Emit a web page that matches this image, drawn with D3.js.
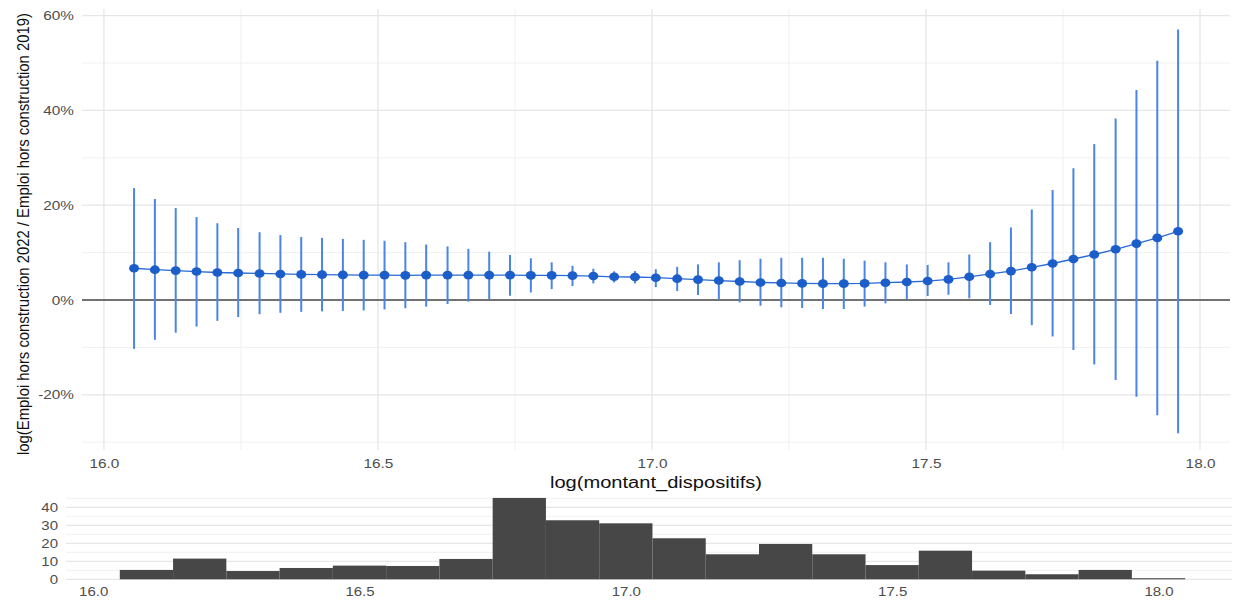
<!DOCTYPE html>
<html>
<head>
<meta charset="utf-8">
<script src="https://cdn.jsdelivr.net/npm/d3@7"></script>
<style>
  body { margin: 0; background: #fff; }
  text { font-family: "Liberation Sans", Arial, sans-serif; }
</style>
</head>
<body>
<script>
// binned estimates (x = log(montant_dispositifs)), values in %
const xs = [16.055, 16.093, 16.131, 16.169, 16.207, 16.245, 16.284, 16.322, 16.360, 16.398,
            16.436, 16.474, 16.512, 16.550, 16.588, 16.627, 16.665, 16.703, 16.741, 16.779,
            16.817, 16.855, 16.893, 16.931, 16.969, 17.007, 17.046, 17.084, 17.122, 17.160,
            17.198, 17.236, 17.274, 17.312, 17.350, 17.388, 17.426, 17.465, 17.503, 17.541,
            17.579, 17.617, 17.655, 17.693, 17.731, 17.769, 17.807, 17.846, 17.884, 17.922,
            17.960];
const est = [6.7, 6.4, 6.2, 6.0, 5.8, 5.7, 5.6, 5.5, 5.4, 5.35,
             5.3, 5.25, 5.25, 5.2, 5.25, 5.25, 5.25, 5.25, 5.25, 5.2,
             5.2, 5.15, 5.05, 4.9, 4.85, 4.7, 4.5, 4.3, 4.1, 3.9,
             3.7, 3.6, 3.5, 3.45, 3.45, 3.5, 3.65, 3.8, 4.0, 4.35,
             4.9, 5.5, 6.1, 6.9, 7.7, 8.65, 9.6, 10.7, 11.9, 13.1,
             14.5];
const lo = [-10.3, -8.4, -6.9, -5.6, -4.4, -3.6, -3.0, -2.7, -2.5, -2.4,
            -2.3, -2.2, -2.0, -1.75, -1.4, -0.85, -0.35, 0.2, 0.9, 1.6,
            2.3, 2.95, 3.5, 3.7, 3.5, 2.7, 1.9, 1.05, 0.15, -0.5,
            -1.2, -1.55, -1.7, -1.9, -1.9, -1.4, -0.7, 0.15, 0.85, 1.1,
            0.35, -1.05, -2.95, -5.3, -7.7, -10.55, -13.6, -16.9, -20.4, -24.3,
            -28.1];
const hi = [23.6, 21.3, 19.4, 17.5, 16.2, 15.2, 14.3, 13.7, 13.3, 13.1,
            12.9, 12.7, 12.5, 12.2, 11.7, 11.3, 10.8, 10.2, 9.5, 8.8,
            7.95, 7.2, 6.6, 6.05, 6.1, 6.5, 7.0, 7.5, 7.95, 8.4,
            8.7, 8.9, 8.9, 8.9, 8.7, 8.3, 7.95, 7.5, 7.4, 7.95,
            9.6, 12.2, 15.3, 19.1, 23.2, 27.8, 32.9, 38.3, 44.3, 50.5,
            57.1];

// histogram of log(montant_dispositifs)
const binEdges = [16.05, 16.15, 16.25, 16.35, 16.45, 16.55, 16.65, 16.75, 16.85, 16.95, 17.05,
                  17.15, 17.25, 17.35, 17.45, 17.55, 17.65, 17.75, 17.85, 17.95, 18.05];
const binCounts = [5.2, 11.5, 4.6, 6.3, 7.6, 7.4, 11.3, 45.2, 32.8, 31.1,
                   22.8, 13.9, 19.6, 13.9, 7.9, 15.9, 4.8, 2.8, 5.2, 0.6];

const topXTicks = [16, 16.5, 17, 17.5, 18];
const topXMinor = [16.25, 16.75, 17.25, 17.75];
const topYTicks = [-20, 0, 20, 40, 60];
const topYMinor = [-30, -10, 10, 30, 50];
const histXTicks = [16, 16.5, 17, 17.5, 18];
const histYTicks = [0, 10, 20, 30, 40];
const histYMinor = [5, 15, 25, 35, 45];

const W = 1240, H = 603;
const svg = d3.select("body").append("svg").attr("width", W).attr("height", H);

function stretch(sel, k) {
    sel.each(function () {
        const len = this.getComputedTextLength();
        d3.select(this).attr("textLength", len * k).attr("lengthAdjust", "spacingAndGlyphs");
    });
}

// ---------- top panel ----------
const x = d3.scaleLinear().domain([15.96, 18.0547]).range([82, 1230]);
const y = d3.scaleLinear().domain([-31.65, 61.4]).range([450, 9]);

const grid = svg.append("g");
grid.selectAll(".hmin").data(topYMinor).enter().append("line")
    .attr("x1", 82).attr("x2", 1230)
    .attr("y1", d => y(d)).attr("y2", d => y(d))
    .attr("stroke", "#f0f0f0").attr("stroke-width", 1);
grid.selectAll(".vmin").data(topXMinor).enter().append("line")
    .attr("y1", 9).attr("y2", 450)
    .attr("x1", d => x(d)).attr("x2", d => x(d))
    .attr("stroke", "#f0f0f0").attr("stroke-width", 1);
grid.selectAll(".hmaj").data(topYTicks).enter().append("line")
    .attr("x1", 82).attr("x2", 1230)
    .attr("y1", d => y(d)).attr("y2", d => y(d))
    .attr("stroke", "#e6e6e6").attr("stroke-width", 1.3);
grid.selectAll(".vmaj").data(topXTicks).enter().append("line")
    .attr("y1", 9).attr("y2", 450)
    .attr("x1", d => x(d)).attr("x2", d => x(d))
    .attr("stroke", "#e6e6e6").attr("stroke-width", 1.3);

// zero line
svg.append("line")
    .attr("x1", 82).attr("x2", 1230)
    .attr("y1", y(0)).attr("y2", y(0))
    .attr("stroke", "#4a4a4a").attr("stroke-width", 1.4);

const pts = xs.map((v, i) => ({ x: v, est: est[i], lo: lo[i], hi: hi[i] }));

svg.append("g").selectAll("line")
    .data(pts).enter().append("line")
    .attr("x1", d => x(d.x)).attr("x2", d => x(d.x))
    .attr("y1", d => y(d.lo)).attr("y2", d => y(d.hi))
    .attr("stroke", "#4a85e4").attr("stroke-width", 2);

svg.append("path")
    .datum(pts)
    .attr("fill", "none")
    .attr("stroke", "#2a6ad6")
    .attr("stroke-width", 1.3)
    .attr("d", d3.line().x(d => x(d.x)).y(d => y(d.est)));

svg.append("g").selectAll("ellipse")
    .data(pts).enter().append("ellipse")
    .attr("cx", d => x(d.x)).attr("cy", d => y(d.est))
    .attr("rx", 5).attr("ry", 4.3)
    .attr("fill", "#1b5ec9");

// axes
const yAxis = svg.append("g").attr("transform", "translate(82,0)")
    .call(d3.axisLeft(y).tickValues(topYTicks).tickFormat(d => d + "%").tickSize(0).tickPadding(8));
const xAxis = svg.append("g").attr("transform", "translate(0,450)")
    .call(d3.axisBottom(x).tickValues(topXTicks).tickFormat(d3.format(".1f")).tickSize(0).tickPadding(9));
[yAxis, xAxis].forEach(a => {
    a.select(".domain").remove();
    a.selectAll("text").attr("fill", "#4d4d4d").style("font-size", "13px")
        .style("font-family", "'Liberation Sans', Arial, sans-serif");
    stretch(a.selectAll("text"), 1.18);
});

svg.append("text")
    .attr("x", 656).attr("y", 482)
    .attr("text-anchor", "middle").attr("dominant-baseline", "central")
    .attr("fill", "#111").style("font-size", "16px")
    .attr("textLength", 212).attr("lengthAdjust", "spacingAndGlyphs")
    .text("log(montant_dispositifs)");

// y title: rotated, glyphs widened a bit like the reference
svg.append("text")
    .attr("transform", "translate(23,234) rotate(-90) scale(1,1.2)")
    .attr("text-anchor", "middle").attr("dominant-baseline", "central")
    .attr("fill", "#111").style("font-size", "14px")
    .attr("textLength", 442).attr("lengthAdjust", "spacingAndGlyphs")
    .text("log(Emploi hors construction 2022 / Emploi hors construction 2019)");

// ---------- bottom histogram ----------
const xh = d3.scaleLinear().domain([15.949, 18.138]).range([66, 1232]);
const yh = d3.scaleLinear().domain([-1.2, 45.6]).range([581.46, 497.22]);

const hgrid = svg.append("g");
hgrid.selectAll(".hmin").data(histYMinor).enter().append("line")
    .attr("x1", 66).attr("x2", 1232)
    .attr("y1", d => yh(d)).attr("y2", d => yh(d))
    .attr("stroke", "#f0f0f0").attr("stroke-width", 1);
hgrid.selectAll(".hmaj").data(histYTicks).enter().append("line")
    .attr("x1", 66).attr("x2", 1232)
    .attr("y1", d => yh(d)).attr("y2", d => yh(d))
    .attr("stroke", "#e6e6e6").attr("stroke-width", 1.3);

const bins = binCounts.map((c, i) => ({ x0: binEdges[i], x1: binEdges[i + 1], n: c }));
svg.append("g").selectAll("rect")
    .data(bins).enter().append("rect")
    .attr("x", d => xh(d.x0))
    .attr("width", d => xh(d.x1) - xh(d.x0))
    .attr("y", d => yh(d.n))
    .attr("height", d => yh(0) - yh(d.n))
    .attr("fill", "#474747");

const hyAxis = svg.append("g").attr("transform", "translate(66,0)")
    .call(d3.axisLeft(yh).tickValues(histYTicks).tickSize(0).tickPadding(8));
const hxAxis = svg.append("g").attr("transform", "translate(0,581.5)")
    .call(d3.axisBottom(xh).tickValues(histXTicks).tickFormat(d3.format(".1f")).tickSize(0).tickPadding(6));
[hyAxis, hxAxis].forEach(a => {
    a.select(".domain").remove();
    a.selectAll("text").attr("fill", "#4d4d4d").style("font-size", "12px")
        .style("font-family", "'Liberation Sans', Arial, sans-serif");
    stretch(a.selectAll("text"), 1.25);
});
</script>
</body>
</html>
